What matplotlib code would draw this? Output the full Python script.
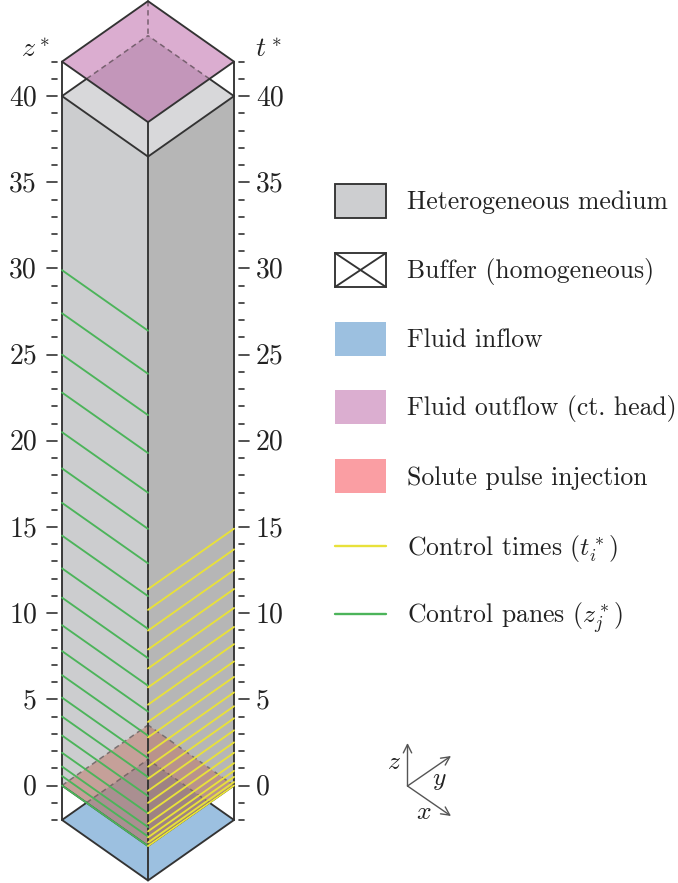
import matplotlib
matplotlib.use("Agg")
import numpy as np
from matplotlib import pyplot as plt
from matplotlib.patches import Polygon, Rectangle

plt.rcParams['font.family'] = ['cmr10']
plt.rcParams['mathtext.fontset'] = 'cm'
plt.rcParams['axes.unicode_minus'] = False

# Values
control_panes = [29.9, 27.4, 25.0, 22.8, 20.5, 18.4, 16.4, 14.5, 12.6, 10.9,
                 9.3, 7.8, 6.4, 5.1, 4.0, 2.9, 1.9, 1.1, 0.55, 0.0]
control_times = [14.9, 13.7, 12.5, 11.4, 10.3, 9.2, 8.2, 7.2, 6.3, 5.4,
                 4.6, 3.9, 3.2, 2.5, 1.9, 1.3, 0.85, 0.5, 0.2, 0.0]
major_ticks = [0, 5, 10, 15, 20, 25, 30, 35, 40]
minor_ticks = [z for z in range(-2, 43) if z % 5 != 0]
legend_labels = ["Heterogeneous medium", "Buffer (homogeneous)", "Fluid inflow",
                 "Fluid outflow (ct. head)", "Solute pulse injection",
                 r"Control times ($t_i^*$)", r"Control panes ($z_j^*$)"]
z_bottom, z_low, z_high, z_top = -2, 0, 40, 42

# Layout in pixels
X_L, X_C, X_R = 62, 148, 234
Z0_PX, PX_PER_Z, DEPTH = 785.5, 17.235, 60.5
EDGE = '#333333'
EDGE_LW = 1.35
CTRL_LW = 1.35
FS_TICK = 20
FS_LEG = 18.5
GREEN = '#4cb45a'
YELLOW = '#e8e13a'


def zy(z):
    return Z0_PX - PX_PER_Z * z


def rhomb(z):
    y = zy(z)
    return [(X_L, y), (X_C, y + DEPTH), (X_R, y), (X_C, y - DEPTH)]


def seg(ax, p, q, color=EDGE, lw=EDGE_LW, ls='-', zorder=5):
    ax.plot([p[0], q[0]], [p[1], q[1]], color=color, lw=lw, ls=ls, zorder=zorder,
            solid_capstyle='round')


fig = plt.figure(figsize=(6.78, 8.83), dpi=100)
ax = fig.add_axes([0, 0, 1, 1])
ax.set_xlim(0, 678)
ax.set_ylim(883, 0)
ax.axis('off')

# inflow below everything
ax.add_patch(Polygon(rhomb(z_bottom), fc='#9cc0e0', ec='none', zorder=1))

# medium, see-through so the inflow shows under the pulse
ax.add_patch(Polygon([(X_L, zy(z_high)), (X_C, zy(z_high) + DEPTH), (X_C, zy(z_low) + DEPTH), (X_L, zy(z_low))],
                     fc='#9b9da1', alpha=0.5, ec='none', zorder=2))
ax.add_patch(Polygon([(X_C, zy(z_high) + DEPTH), (X_R, zy(z_high)), (X_R, zy(z_low)), (X_C, zy(z_low) + DEPTH)],
                     fc='#6f6f6f', alpha=0.5, ec='none', zorder=2))
ax.add_patch(Polygon(rhomb(z_high), fc='#b3b3b7', alpha=0.5, ec='none', zorder=2))

# pulse and outflow
ax.add_patch(Polygon(rhomb(z_low), fc='#bd6a58', alpha=0.45, ec='none', zorder=3))
ax.add_patch(Polygon(rhomb(z_top), fc='#a5348a', alpha=0.4, ec='none', zorder=3))

# edges
for x in (X_L, X_R):
    seg(ax, (x, zy(z_top)), (x, zy(z_bottom)))
seg(ax, (X_C, zy(z_top) + DEPTH), (X_C, zy(z_bottom) + DEPTH))
for z in (z_bottom, z_low, z_high, z_top):
    r = rhomb(z)
    seg(ax, r[0], r[1])
    seg(ax, r[1], r[2])
r = rhomb(z_top)
seg(ax, r[2], r[3])
seg(ax, r[3], r[0])

# back edges, solid where they are in front of the white buffer and dashed behind
t = PX_PER_Z * (z_top - z_high) / (2 * DEPTH)
dash = (0, (3.5, 2.5))
for z in (z_bottom, z_high):
    r = rhomb(z)
    for side in (r[0], r[2]):
        mid = (side[0] + t * (X_C - side[0]), side[1] - t * DEPTH)
        seg(ax, side, mid)
        seg(ax, mid, r[3], color='#77606f' if z == z_high else '#7a6868', lw=1.1, ls=dash, zorder=4)
r = rhomb(z_low)
seg(ax, r[0], r[3], color='#7a7070', lw=1.1, ls=dash, zorder=4)
seg(ax, r[2], r[3], color='#7a7070', lw=1.1, ls=dash, zorder=4)
seg(ax, rhomb(z_top)[3], rhomb(z_high)[3], color='#77606f', lw=1.1, ls=dash, zorder=4)

# control lines
for z in control_panes:
    seg(ax, (X_L, zy(z)), (X_C, zy(z) + DEPTH), color=GREEN, lw=CTRL_LW, zorder=6)
for z in control_times:
    seg(ax, (X_R, zy(z)), (X_C, zy(z) + DEPTH), color=YELLOW, lw=CTRL_LW, zorder=6)

# rulers
for z in minor_ticks:
    seg(ax, (52, zy(z)), (57, zy(z)), lw=1.2)
    seg(ax, (239, zy(z)), (244, zy(z)), lw=1.2)
for z in major_ticks:
    seg(ax, (47, zy(z)), (57, zy(z)), lw=1.2)
    seg(ax, (239, zy(z)), (249, zy(z)), lw=1.2)
    ax.text(37, zy(z) - 1, str(z), ha='right', va='center_baseline', fontsize=FS_TICK, color='#222222')
    ax.text(256, zy(z) - 1, str(z), ha='left', va='center_baseline', fontsize=FS_TICK, color='#222222')
ax.text(35, 50, r'$z^*$', ha='center', va='center', fontsize=FS_TICK, color='#222222')
ax.text(268, 50, r'$t^*$', ha='center', va='center', fontsize=FS_TICK, color='#222222')

# legend
leg_x, leg_w, leg_h = 335, 51, 34
leg_y = [184, 253, 322, 390, 459, 546, 614]
leg_base = [209, 278, 347, 415, 485, 555, 623]
ax.add_patch(Rectangle((leg_x, leg_y[0]), leg_w, leg_h, fc='#cdced0', ec=EDGE, lw=EDGE_LW))
ax.add_patch(Rectangle((leg_x, leg_y[1]), leg_w, leg_h, fc='white', ec=EDGE, lw=EDGE_LW))
seg(ax, (leg_x, leg_y[1]), (leg_x + leg_w, leg_y[1] + leg_h))
seg(ax, (leg_x, leg_y[1] + leg_h), (leg_x + leg_w, leg_y[1]))
ax.add_patch(Rectangle((leg_x, leg_y[2]), leg_w, leg_h, fc='#9cc0e0', ec='none'))
ax.add_patch(Rectangle((leg_x, leg_y[3]), leg_w, leg_h, fc='#dbaed0', ec='none'))
ax.add_patch(Rectangle((leg_x, leg_y[4]), leg_w, leg_h, fc='#fa9ea3', ec='none'))
seg(ax, (leg_x, leg_y[5]), (leg_x + leg_w, leg_y[5]), color=YELLOW, lw=1.7)
seg(ax, (leg_x, leg_y[6]), (leg_x + leg_w, leg_y[6]), color=GREEN, lw=1.7)
for label, base in zip(legend_labels, leg_base):
    ax.text(407, base, label, ha='left', va='baseline', fontsize=FS_LEG, color='#222222')

# axis triad
origin = (407.5, 786)
for tip in ((407.5, 743), (451, 756), (451, 816)):
    ax.annotate('', xy=tip, xytext=origin,
                arrowprops=dict(arrowstyle='->', color='#555555', lw=1.0, shrinkA=0, shrinkB=0, mutation_scale=15))
ax.text(394, 762, r'$z$', ha='center', va='center', fontsize=FS_LEG, color='#222222')
ax.text(439, 780, r'$y$', ha='center', va='center', fontsize=FS_LEG, color='#222222')
ax.text(424, 812, r'$x$', ha='center', va='center', fontsize=FS_LEG, color='#222222')

fig.savefig('out.png', dpi=100)
